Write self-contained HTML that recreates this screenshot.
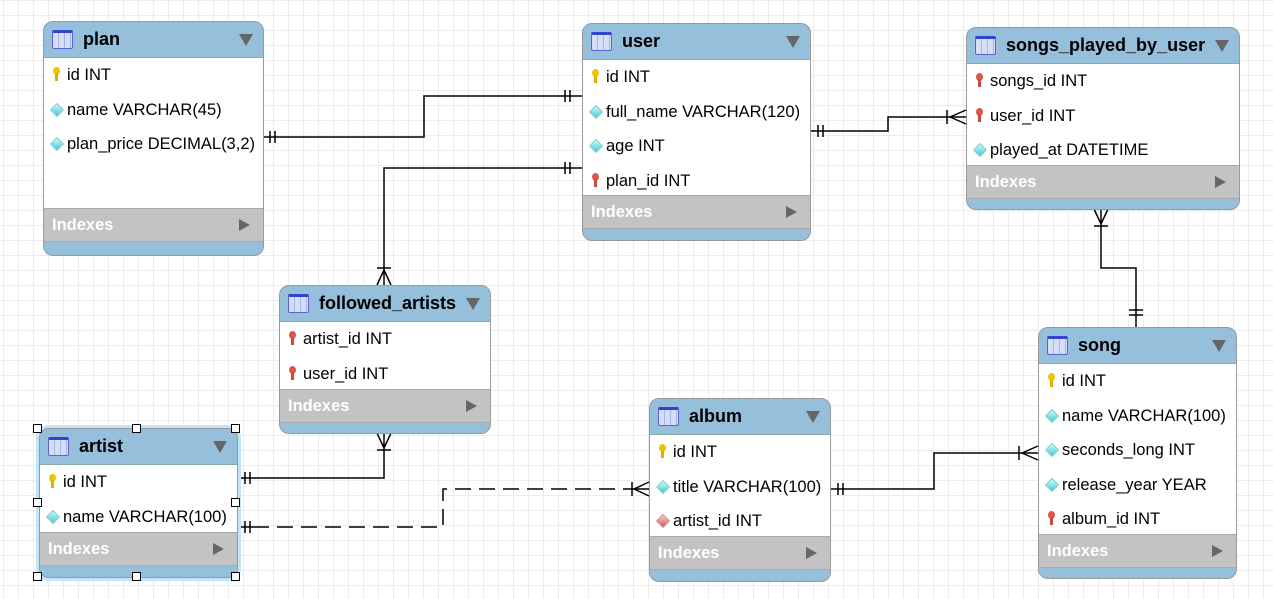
<!DOCTYPE html>
<html><head><meta charset="utf-8">
<style>
body{margin:0;width:1273px;height:599px;overflow:hidden;background:#fff;font-family:"Liberation Sans",sans-serif;position:relative}
.g{position:absolute;left:0;top:0;width:1273px;height:599px;
background-image:linear-gradient(90deg,#ececec 1px,transparent 1px),linear-gradient(#ececec 1px,transparent 1px);
background-size:15px 15px;background-position:3px 0}
.t{position:absolute;border:1px solid #9a9a9a;border-radius:10px;background:#96bfdc;overflow:hidden;box-sizing:border-box}
.h{height:35px;position:relative;border-bottom:1px solid #8aa;font-weight:bold;font-size:18px;line-height:35px;padding-left:39px;color:#000}
.h:before{content:"";position:absolute;left:8px;top:8px;width:21px;height:19px;border:1px solid #5566cc;border-top:3px solid #3344cc;background:repeating-linear-gradient(90deg,#d5ddf7 0 5px,#a5b5e8 5px 6px);box-sizing:border-box;border-radius:2px}
.h:after{content:"";position:absolute;right:10px;top:12px;border-left:7px solid transparent;border-right:7px solid transparent;border-top:12px solid #666}
.b{background:#fff;border-bottom:1px solid #aaa}
.r{height:34.5px;line-height:34.5px;font-size:16.5px;padding-left:23px;position:relative;white-space:nowrap}
.i{height:32px;line-height:32px;background:#c3c3c3;color:#fff;font-weight:bold;font-size:16.5px;padding-left:8px;position:relative;border-bottom:1px solid #aaa}
.i:after{content:"";position:absolute;right:13px;top:10px;border-top:6px solid transparent;border-bottom:6px solid transparent;border-left:11px solid #666}
.k:before{content:"";position:absolute;left:9px;top:9px;width:7px;height:8px;border-radius:50%;background:#f2c200}
.k:after{content:"";position:absolute;left:11px;top:15px;width:3px;height:8px;background:#e0b000}
.kr:before{background:#d9584a}.kr:after{background:#c94a3e}
.d:before{content:"";position:absolute;left:8px;top:12px;width:8px;height:8px;transform:rotate(45deg);background:linear-gradient(135deg,#c8ffff,#49c6cf);border:1px solid #7cc}
.dr:before{background:linear-gradient(135deg,#ffd0c8,#cf5a50);border-color:#c88}
.hd{position:absolute;width:7px;height:7px;border:1px solid #000;background:#fff}
</style></head><body>
<div class="g"></div>
<svg width="1273" height="599" style="position:absolute;left:0;top:0" fill="none" stroke="#000" stroke-width="1.5">
<path d="M263 137H424V96H582"/><path d="M270 131v12M275 131v12M565 90v12M570 90v12"/>
<path d="M582 168H384V285"/><path d="M565 162v12M570 162v12M377 268h14M384 270L377 285M384 270L391 285"/>
<path d="M810 131H888V117H966"/><path d="M818 125v12M823 125v12M947 110v14M950 117L966 110M950 117L966 124"/>
<path d="M1101 209V268H1136V327"/><path d="M1094 226h14M1101 224L1094 209M1101 224L1108 209M1129 310h14M1129 315h14"/>
<path d="M384 433V478H237"/><path d="M377 450h14M384 448L377 433M384 448L391 433M245 472v12M250 472v12"/>
<path d="M253 527H443V489H632" stroke-dasharray="16 8"/><path d="M237 527h16M632 489h17"/><path d="M245 521v12M250 521v12M632 482v14M634 489L649 482M634 489L649 496"/>
<path d="M830 489H934V453H1038"/><path d="M838 483v12M843 483v12M1019 446v14M1022 453L1038 446M1022 453L1038 460"/>
</svg>

<div class="t" style="left:43px;top:21px;width:221px;height:235px">
<div class="h">plan</div>
<div class="b" style="height:150px"><div class="r k">id INT</div><div class="r d">name VARCHAR(45)</div><div class="r d">plan_price DECIMAL(3,2)</div></div>
<div class="i">Indexes</div></div>

<div class="t" style="left:582px;top:23px;width:229px;height:218px">
<div class="h">user</div>
<div class="b" style="height:135px"><div class="r k">id INT</div><div class="r d">full_name VARCHAR(120)</div><div class="r d">age INT</div><div class="r k kr">plan_id INT</div></div>
<div class="i">Indexes</div></div>

<div class="t" style="left:966px;top:27px;width:274px;height:183px">
<div class="h">songs_played_by_user</div>
<div class="b" style="height:101px"><div class="r k kr">songs_id INT</div><div class="r k kr">user_id INT</div><div class="r d">played_at DATETIME</div></div>
<div class="i">Indexes</div></div>

<div class="t" style="left:279px;top:285px;width:212px;height:149px">
<div class="h">followed_artists</div>
<div class="b" style="height:67px"><div class="r k kr">artist_id INT</div><div class="r k kr">user_id INT</div></div>
<div class="i">Indexes</div></div>

<div class="t" style="left:39px;top:428px;width:199px;height:150px;box-shadow:0 0 0 3px #bfe6f7">
<div class="h">artist</div>
<div class="b" style="height:67px"><div class="r k">id INT</div><div class="r d">name VARCHAR(100)</div></div>
<div class="i">Indexes</div></div>
<div class="hd" style="left:33px;top:424px"></div><div class="hd" style="left:132px;top:424px"></div><div class="hd" style="left:231px;top:424px"></div>
<div class="hd" style="left:33px;top:498px"></div><div class="hd" style="left:231px;top:498px"></div>
<div class="hd" style="left:33px;top:572px"></div><div class="hd" style="left:132px;top:572px"></div><div class="hd" style="left:231px;top:572px"></div>

<div class="t" style="left:649px;top:398px;width:182px;height:184px">
<div class="h">album</div>
<div class="b" style="height:101px"><div class="r k">id INT</div><div class="r d">title VARCHAR(100)</div><div class="r d dr">artist_id INT</div></div>
<div class="i">Indexes</div></div>

<div class="t" style="left:1038px;top:327px;width:199px;height:252px">
<div class="h">song</div>
<div class="b" style="height:170px"><div class="r k">id INT</div><div class="r d">name VARCHAR(100)</div><div class="r d">seconds_long INT</div><div class="r d">release_year YEAR</div><div class="r k kr">album_id INT</div></div>
<div class="i">Indexes</div></div>
</body></html>
